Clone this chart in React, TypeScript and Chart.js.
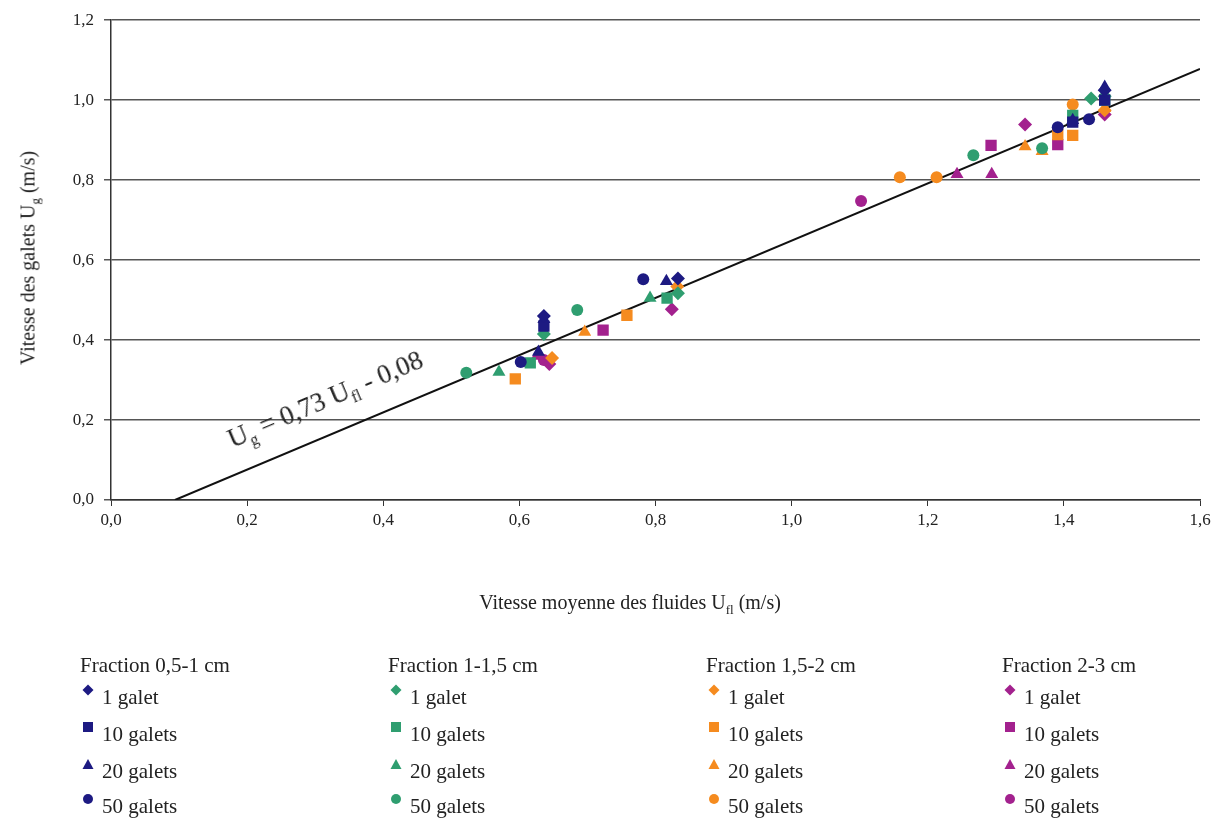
import React, { useEffect, useRef } from 'react';
import { Chart, registerables } from 'chart.js';

Chart.register(...registerables);

const FONT = '"Liberation Serif", "Times New Roman", serif';

// Legend labels
const fractions = ['Fraction 0,5-1 cm', 'Fraction 1-1,5 cm', 'Fraction 1,5-2 cm', 'Fraction 2-3 cm'];
const counts = ['1 galet', '10 galets', '20 galets', '50 galets'];
const colors = ['#1d1a82', '#2f9e70', '#f58b1f', '#a3218e'];
const shapes = ['rectRot', 'rect', 'triangle', 'circle'];
const radii = [7, 8, 7.5, 6];

// Fraction 0,5-1 cm  [Ufl, Ug]
const f1_1 = [[0.636, 0.46], [0.833, 0.554], [1.46, 1.025]];
const f1_10 = [[0.636, 0.435], [1.413, 0.945], [1.46, 1.0]];
const f1_20 = [[0.628, 0.37], [0.636, 0.452], [0.816, 0.547], [1.413, 0.95], [1.46, 1.033]];
const f1_50 = [[0.602, 0.345], [0.782, 0.552], [1.391, 0.932], [1.437, 0.952]];

// Fraction 1-1,5 cm
const f2_1 = [[0.636, 0.415], [0.833, 0.517], [1.44, 1.004], [1.46, 1.01]];
const f2_10 = [[0.616, 0.343], [0.817, 0.505], [1.413, 0.962], [1.46, 1.0]];
const f2_20 = [[0.57, 0.32], [0.792, 0.505]];
const f2_50 = [[0.522, 0.318], [0.685, 0.475], [1.267, 0.862], [1.368, 0.88]];

// Fraction 1,5-2 cm
const f3_1 = [[0.648, 0.355], [0.832, 0.534], [1.46, 0.975]];
const f3_10 = [[0.594, 0.303], [0.758, 0.462], [1.391, 0.914], [1.413, 0.912]];
const f3_20 = [[0.696, 0.42], [1.343, 0.884], [1.368, 0.872], [1.46, 0.98]];
const f3_50 = [[1.159, 0.807], [1.213, 0.807], [1.413, 0.989]];

// Fraction 2-3 cm
const f4_1 = [[0.644, 0.34], [0.824, 0.477], [1.343, 0.939], [1.46, 0.964]];
const f4_10 = [[0.723, 0.425], [1.293, 0.887], [1.391, 0.889]];
const f4_20 = [[0.626, 0.36], [1.243, 0.815], [1.294, 0.815]];
const f4_50 = [[0.636, 0.35], [1.102, 0.748]];

const series = [
  [f1_1, f1_10, f1_20, f1_50],
  [f2_1, f2_10, f2_20, f2_50],
  [f3_1, f3_10, f3_20, f3_50],
  [f4_1, f4_10, f4_20, f4_50],
];

// Regression line Ug = 0,73 Ufl - 0,08 (end points as drawn)
const fitX = [0.094, 1.6];
const fitY = [0, 1.078];

const fmt = (v: number) => Number(v).toFixed(1).replace('.', ',');

function Marker({ shape, color }: { shape: string; color: string }) {
  let el: any = null;
  if (shape === 'rectRot') el = <polygon points="6,0.5 11.5,6 6,11.5 0.5,6" fill={color} />;
  else if (shape === 'rect') el = <rect x="1" y="1" width="10" height="10" fill={color} />;
  else if (shape === 'triangle') el = <polygon points="6,1 11.5,11 0.5,11" fill={color} />;
  else el = <circle cx="6" cy="6" r="5" fill={color} />;
  return (
    <svg width="12" height="12" style={{ position: 'absolute', left: 0, top: 0 }}>
      {el}
    </svg>
  );
}

export default function App() {
  const ref = useRef<HTMLCanvasElement | null>(null);

  useEffect(() => {
    if (!ref.current) return;
    const datasets: any[] = [];
    series.forEach((fr, fi) => {
      fr.forEach((pts, ci) => {
        datasets.push({
          type: 'scatter',
          label: fractions[fi] + ' ' + counts[ci],
          data: pts.map((p) => ({ x: p[0], y: p[1] })),
          pointStyle: shapes[ci],
          pointRadius: radii[ci],
          backgroundColor: colors[fi],
          borderColor: colors[fi],
          borderWidth: 0,
        });
      });
    });
    datasets.push({
      type: 'line',
      label: 'fit',
      data: fitX.map((x, i) => ({ x, y: fitY[i] })),
      borderColor: '#111',
      borderWidth: 2,
      pointRadius: 0,
      fill: false,
    });

    const chart = new Chart(ref.current, {
      type: 'scatter',
      data: { datasets },
      options: {
        animation: false,
        responsive: false,
        layout: { padding: { left: 0, top: 17, right: 26, bottom: 281 } },
        plugins: { legend: { display: false }, tooltip: { enabled: false } },
        scales: {
          x: {
            type: 'linear',
            min: 0,
            max: 1.6,
            ticks: {
              stepSize: 0.2,
              callback: (v: any) => fmt(v),
              font: { family: FONT, size: 17 },
              color: '#222',
              padding: 4,
              maxRotation: 0,
            },
            grid: { drawOnChartArea: false, drawTicks: true, tickLength: 6, color: '#333', lineWidth: 1 },
            border: { display: true, color: '#333', width: 1.5 },
            afterFit: (s: any) => {
              s.height = 40;
            },
          },
          y: {
            type: 'linear',
            min: 0,
            max: 1.2,
            ticks: {
              stepSize: 0.2,
              callback: (v: any) => fmt(v),
              font: { family: FONT, size: 17 },
              color: '#222',
              padding: 10,
            },
            grid: { color: '#555', lineWidth: 1.5, tickLength: 7 },
            border: { display: true, color: '#333', width: 1.5 },
            afterFit: (s: any) => {
              s.width = 111;
            },
          },
        },
      },
    });
    return () => chart.destroy();
  }, []);

  const colX = [80, 388, 706, 1002];
  const rowY = [697, 734, 771, 806];

  return (
    <div style={{ position: 'absolute', left: 0, top: 0, width: 1226, height: 821, background: '#fff', fontFamily: FONT, color: '#222' }}>
      <canvas ref={ref} width={1226} height={821} style={{ position: 'absolute', left: 0, top: 0 }} />
      {/* Y axis title */}
      <div
        style={{
          position: 'absolute',
          left: 30,
          top: 258,
          transform: 'translate(-50%, -50%) rotate(-90deg)',
          whiteSpace: 'nowrap',
          fontSize: 20,
        }}
      >
        Vitesse des galets U<sub style={{ fontSize: 13 }}>g</sub> (m/s)
      </div>
      {/* X axis title */}
      <div
        style={{
          position: 'absolute',
          left: 630,
          top: 604,
          transform: 'translate(-50%, -50%)',
          whiteSpace: 'nowrap',
          fontSize: 20,
        }}
      >
        Vitesse moyenne des fluides U<sub style={{ fontSize: 13 }}>fl</sub> (m/s)
      </div>
      {/* Equation */}
      <div
        style={{
          position: 'absolute',
          left: 326,
          top: 401,
          transform: 'translate(-50%, -50%) rotate(-23deg)',
          whiteSpace: 'nowrap',
          fontSize: 27,
        }}
      >
        U<sub style={{ fontSize: 16 }}>g</sub> = 0,73 U<sub style={{ fontSize: 16 }}>fl</sub> - 0,08
      </div>
      {/* Legend */}
      {fractions.map((f, fi) => (
        <React.Fragment key={f}>
          <div style={{ position: 'absolute', left: colX[fi], top: 665, transform: 'translateY(-50%)', fontSize: 21, whiteSpace: 'nowrap' }}>
            {f}
          </div>
          {counts.map((c, ci) => (
            <div key={c} style={{ position: 'absolute', left: colX[fi] + 2, top: rowY[ci] - 14, height: 28, whiteSpace: 'nowrap' }}>
              <div style={{ position: 'absolute', left: 0, top: 1, width: 12, height: 12 }}>
                <Marker shape={shapes[ci]} color={colors[fi]} />
              </div>
              <div style={{ position: 'absolute', left: 20, top: 0, fontSize: 21, lineHeight: '28px' }}>{c}</div>
            </div>
          ))}
        </React.Fragment>
      ))}
    </div>
  );
}
